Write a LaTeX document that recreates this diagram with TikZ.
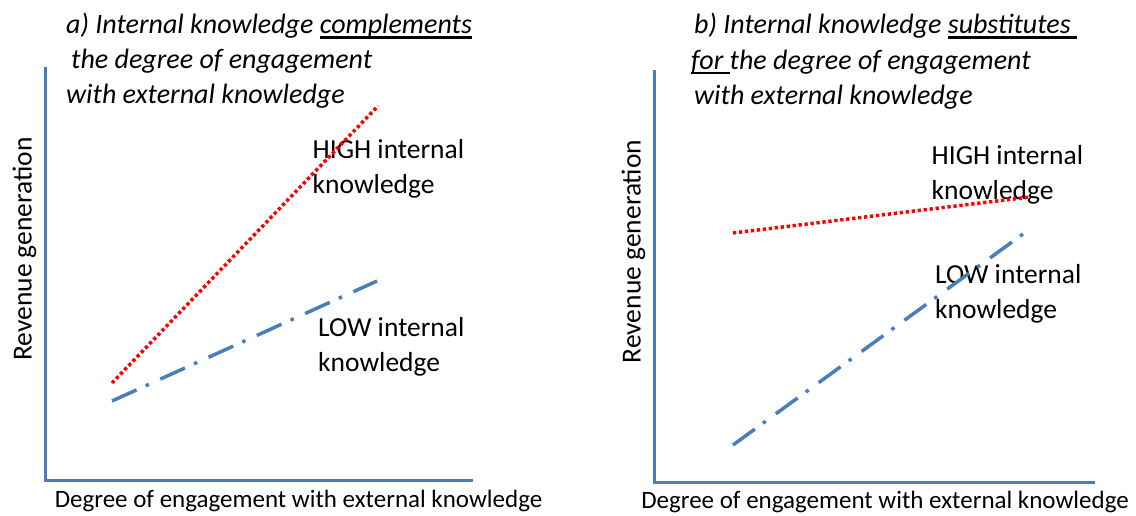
\documentclass[tikz,border=0pt]{standalone}
\usepackage{fontspec}
\setmainfont{Carlito}
\usepackage{xcolor}
\usetikzlibrary{calc}
\definecolor{axisblue}{HTML}{4A7EBB}
\newcommand{\ulword}[1]{\setbox0\hbox{#1}\rlap{\rule[-4.6pt]{\wd0}{2.6pt}}\box0}

\begin{document}
\begin{tikzpicture}[x=1pt,y=-1pt,
    axis/.style={draw=axisblue, line width=3pt},
    highline/.style={draw=red, line width=3.5pt, dash pattern=on 3.3pt off 2.7pt},
    lowline/.style={draw=axisblue, line width=3.5pt, dash pattern=on 27pt off 10pt on 3.5pt off 12.5pt},
    txt/.style={inner sep=0, anchor=base west, font=\fontsize{27.5}{33}\selectfont},
    ttl/.style={inner sep=0, anchor=base west, font=\fontsize{28}{33}\selectfont\itshape},
    xlab/.style={inner sep=0, anchor=base, font=\fontsize{25}{30}\selectfont},
    ylab/.style={inner sep=0, anchor=base, rotate=90, font=\fontsize{27.5}{33}\selectfont}]
    \useasboundingbox (0,0) rectangle (1136,516);

    % panel a
    \coordinate (atop) at (45,67);
    \coordinate (aorig) at (45,480);
    \coordinate (aend) at (473,480);
    \coordinate (ahs) at (112,383);
    \coordinate (ahe) at (378,106);
    \coordinate (als) at (112,401);
    \coordinate (ale) at (377,281);

    \node[ttl] (at1) at (66,34) {a) Internal knowledge \ulword{complements}};
    \node[ttl] (at2) at (71,69) {the degree of engagement};
    \node[ttl] (at3) at (66,104) {with external knowledge};
    \node[txt] (ahigh1) at (312.5,158.3) {HIGH internal};
    \node[txt] (ahigh2) at (312.5,193.3) {knowledge};
    \node[txt] (alow1) at (318,336.7) {LOW internal};
    \node[txt] (alow2) at (318,371.7) {knowledge};
    \node[ylab] (ay) at (31.5,249) {Revenue generation};
    \node[xlab] (ax) at (298.5,507) {Degree of engagement with external knowledge};

    \draw[axis] (atop) -- (aorig) -- (aend);
    \draw[highline] (ahs) -- (ahe);
    \draw[lowline] (als) -- (ale);

    % panel b
    \coordinate (btop) at (654,70);
    \coordinate (borig) at (654,482);
    \coordinate (bend) at (1095,482);
    \coordinate (bhs) at (733,233);
    \coordinate (bhe) at (1030,197);
    \coordinate (bls) at (733,445);
    \coordinate (ble) at (1023,234);

    \node[ttl] (bt1) at (694,34) {b) Internal knowledge \ulword{substitutes\ }};
    \node[ttl] (bt2) at (691,69.6) {\ulword{for\ }the degree of engagement};
    \node[ttl] (bt3) at (694,105) {with external knowledge};
    \node[txt] (bhigh1) at (931.5,164.3) {HIGH internal};
    \node[txt] (bhigh2) at (931.5,199.8) {knowledge};
    \node[txt] (blow1) at (935,283.3) {LOW internal};
    \node[txt] (blow2) at (935,318.3) {knowledge};
    \node[ylab] (by) at (640.5,251.5) {Revenue generation};
    \node[xlab] (bx) at (885,508) {Degree of engagement with external knowledge};

    \draw[axis] (btop) -- (borig) -- (bend);
    \draw[highline] (bhs) -- (bhe);
    \draw[lowline] (bls) -- (ble);
\end{tikzpicture}
\end{document}
